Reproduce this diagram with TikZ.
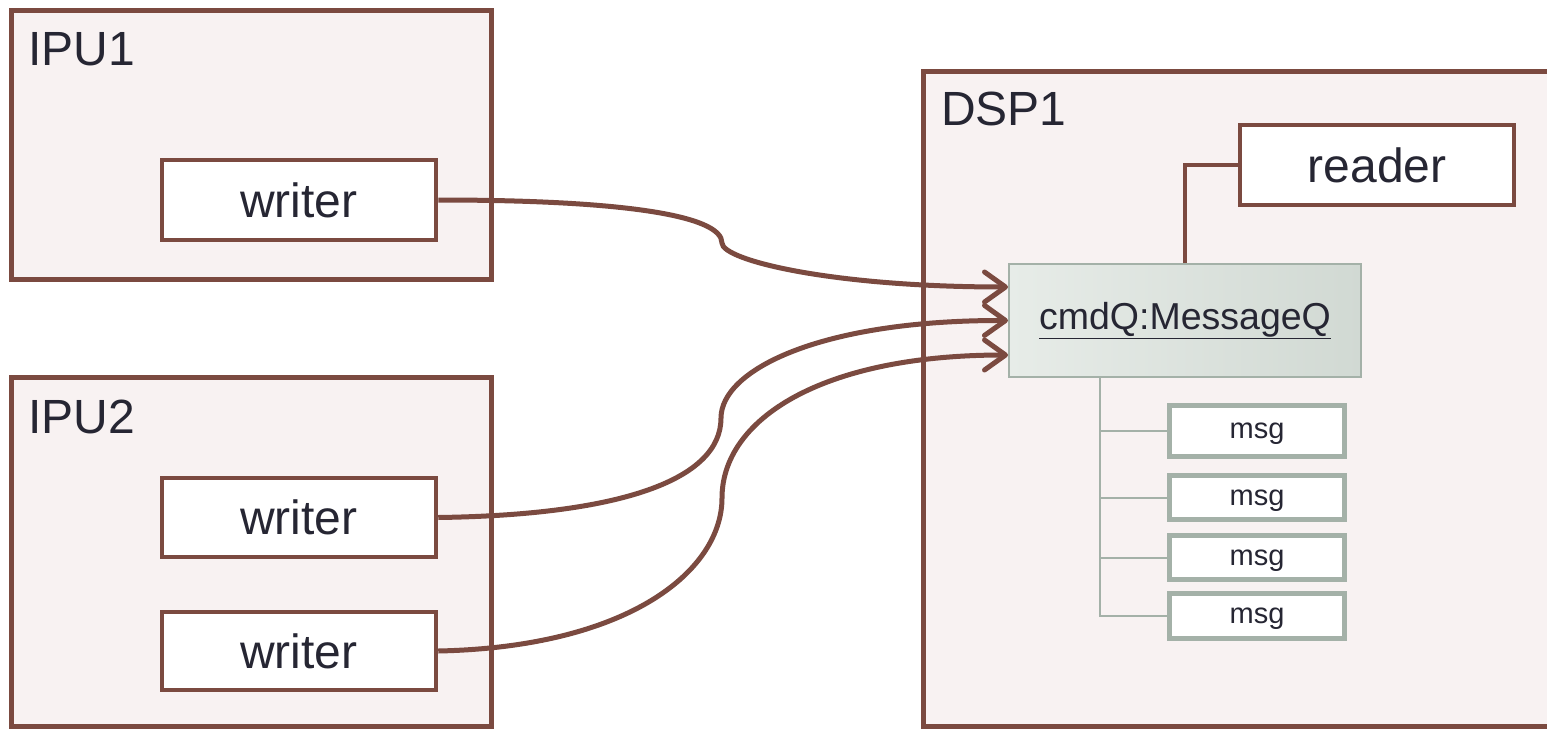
\documentclass[tikz,border=0pt]{standalone}
\usepackage{fontspec}
\setmainfont{Liberation Sans}
\usetikzlibrary{arrows.meta}
\definecolor{brownline}{HTML}{7B4A40}
\definecolor{boxfill}{HTML}{F8F2F2}
\definecolor{txt}{HTML}{262633}
\definecolor{grayline}{HTML}{A4B1A8}
\definecolor{qleft}{HTML}{E7ECE8}
\definecolor{qright}{HTML}{D1D9D3}
\tikzset{
  outerbox/.style={draw=brownline, line width=5pt, fill=boxfill, rectangle, inner sep=0pt},
  actor/.style={draw=brownline, line width=4.5pt, fill=white, rectangle, inner sep=0pt,
    minimum width=274pt, font=\fontsize{48}{56}\selectfont, text=txt},
  boxlabel/.style={anchor=base west, inner sep=0pt, font=\fontsize{48}{56}\selectfont, text=txt},
  queue/.style={draw=grayline, line width=2pt, left color=qleft, right color=qright, rectangle,
    inner sep=0pt, font=\fontsize{37.5}{44}\selectfont, text=txt},
  msgbox/.style={draw=grayline, line width=5pt, fill=white, rectangle, inner sep=0pt,
    minimum width=175pt, text depth=0pt, font=\fontsize{29}{32}\selectfont, text=txt},
  flow/.style={draw=brownline, line width=5pt, -{Straight Barb[length=21pt, width=30pt, line width=5pt, round]}},
  link/.style={draw=brownline, line width=4.5pt},
  tree/.style={draw=grayline, line width=2pt}
}
\begin{document}
\begin{tikzpicture}[x=1pt, y=-1pt]
\clip (0,0) rectangle (1547,728);
\useasboundingbox (0,0) rectangle (1547,728);
\fill[white] (0,0) rectangle (1547,728);
% containers
\node[outerbox, minimum width=480pt, minimum height=269pt] (ipu1) at (251,144.5) {};
\node[outerbox, minimum width=480pt, minimum height=349pt] (ipu2) at (251,551.5) {};
\node[outerbox, minimum width=660pt, minimum height=655pt] (dsp1) at (1253,398.5) {};
\node[boxlabel] (ipu1l) at (28,65) {IPU1};
\node[boxlabel] (ipu2l) at (28,433) {IPU2};
\node[boxlabel] (dsp1l) at (941,125) {DSP1};
% actors
\node[actor, minimum height=80pt] (w1) at (299,200) {writer};
\node[actor, minimum height=79pt] (w2) at (299,517.5) {writer};
\node[actor, minimum height=78pt] (w3) at (299,651) {writer};
\node[actor, minimum height=80pt] (reader) at (1377,165) {reader};
% queue
\node[queue, minimum width=352pt, minimum height=113pt] (q) at (1185,320.5) {\underline{cmdQ:MessageQ}};
% messages
\node[msgbox, minimum height=51pt] (m1) at (1257,431) {msg};
\node[msgbox, minimum height=44pt] (m2) at (1257,497.5) {msg};
\node[msgbox, minimum height=44pt] (m3) at (1257,557.5) {msg};
\node[msgbox, minimum height=45pt] (m4) at (1257,615.5) {msg};
\coordinate (trunk) at (1099.5,377);
\draw[tree] (q.south -| trunk) |- (m4.west);
\draw[tree] (trunk |- m1.west) -- (m1.west);
\draw[tree] (trunk |- m2.west) -- (m2.west);
\draw[tree] (trunk |- m3.west) -- (m3.west);
% reader link
\draw[link] (q.north) |- (reader.west);
% curves
\coordinate (k1) at (722,243);
\coordinate (k2) at (721,418);
\coordinate (k3) at (722,498);
\draw[flow] (w1.east) .. controls (620,200) and (722,215) .. (k1)
  .. controls (722,260) and (830,287) .. ([yshift=33.5pt]q.west);
\draw[flow] (w2.east) .. controls (620,515) and (721,480) .. (k2)
  .. controls (721,370) and (820,320) .. (q.west);
\draw[flow] (w3.east) .. controls (630,647) and (722,570) .. (k3)
  .. controls (722,420) and (820,355) .. ([yshift=-34.5pt]q.west);
\end{tikzpicture}
\end{document}
